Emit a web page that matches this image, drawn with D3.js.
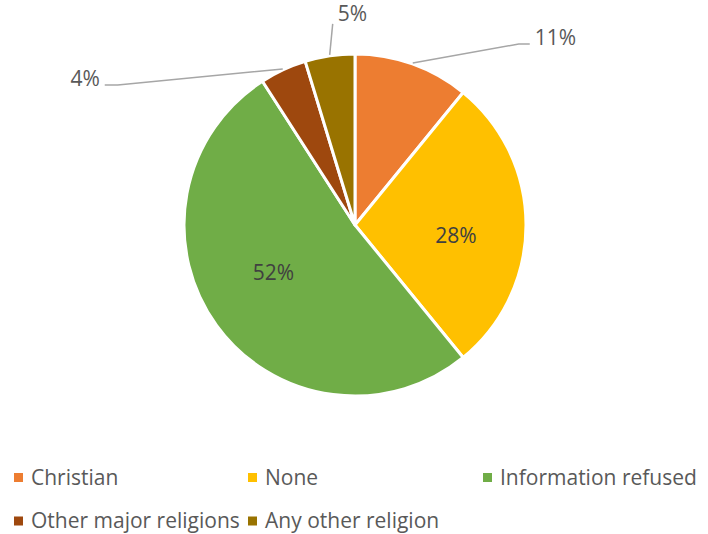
<!DOCTYPE html>
<html>
<head>
<meta charset="utf-8">
<script src="https://cdn.jsdelivr.net/npm/d3@7"></script>
<style>
  body { margin: 0; background: #fff; }
  svg { display: block; font-family: "Open Sans", "Noto Sans", sans-serif; }
</style>
</head>
<body>
<svg id="chart" width="708" height="534"></svg>
<script>
// Data
const categories = ["Christian", "None", "Information refused", "Other major religions", "Any other religion"];
const shares = [10.9, 28.2, 51.8, 4.4, 4.7];
const labelText = ["11%", "28%", "52%", "4%", "5%"];
const colors = ["#ED7D31", "#FFC000", "#70AD47", "#9E480E", "#997300"];

// Layout
const cx = 355, cy = 225, radius = 171;
const textColor = "#595959";
const fontSize = 21;

const svg = d3.select("#chart");
const g = svg.append("g").attr("transform", `translate(${cx},${cy})`);

const rows = categories.map((c, i) => ({ name: c, value: shares[i], label: labelText[i], color: colors[i] }));

const pie = d3.pie().sort(null).value(d => d.value);
const arc = d3.arc().innerRadius(0).outerRadius(radius);
const arcs = pie(rows);

// Slices
g.selectAll("path.slice")
    .data(arcs)
    .join("path")
    .attr("class", "slice")
    .attr("d", arc)
    .attr("fill", d => d.data.color)
    .attr("stroke", "#fff")
    .attr("stroke-width", 3)
    .attr("stroke-linejoin", "round");

// Inside labels (big slices), nudged like Excel's best-fit placement
const innerArc = d3.arc().innerRadius(radius * 0.59).outerRadius(radius * 0.59);
const insideNudge = { 1: 11, 2: -12 };
g.selectAll("text.inner")
    .data(arcs.filter(d => d.data.value > 20))
    .join("text")
    .attr("class", "inner")
    .attr("transform", d => {
        const [x, y] = innerArc.centroid(d);
        return `translate(${x},${y + insideNudge[d.index]})`;
    })
    .attr("dy", "0.35em")
    .attr("text-anchor", "middle")
    .attr("font-size", fontSize)
    .attr("fill", "#404040")
    .text(d => d.data.label);

// Outside labels with leader lines; elbow offsets relative to the arc point
const outside = {
    0: { elbow: [106, -19], tail: 11, anchor: "start" },
    3: { elbow: [-165, 16], tail: -13, anchor: "end" },
    4: { elbow: [3, -31], tail: 0, anchor: "start" }
};
const edgeArc = d3.arc().innerRadius(radius + 1).outerRadius(radius + 1);

arcs.forEach((d, i) => {
    const o = outside[i];
    if (!o) return;
    const [x0, y0] = edgeArc.centroid(d);
    const x1 = x0 + o.elbow[0], y1 = y0 + o.elbow[1];
    const x2 = x1 + o.tail;
    g.append("polyline")
        .attr("points", [[x0, y0], [x1, y1], [x2, y1]].map(p => p.join(",")).join(" "))
        .attr("fill", "none")
        .attr("stroke", "#a6a6a6")
        .attr("stroke-width", 1.5);
    let tx = x2 + (o.anchor === "start" ? 5 : -5);
    let ty = y1 - 6;
    if (o.tail === 0) { tx = x1 + 5; ty = y1 - 10; }
    g.append("text")
        .attr("x", tx)
        .attr("y", ty)
        .attr("dy", "0.35em")
        .attr("text-anchor", o.anchor)
        .attr("font-size", fontSize)
        .attr("fill", textColor)
        .text(d.data.label);
});

// Legend
const legendCols = [14, 248, 483];
const legendRows = [477.5, 521];
const legend = svg.append("g").attr("class", "legend");
rows.forEach((d, i) => {
    const col = i < 3 ? i : i - 3;
    const row = i < 3 ? 0 : 1;
    const item = legend.append("g")
        .attr("transform", `translate(${legendCols[col]},${legendRows[row]})`);
    item.append("rect")
        .attr("x", 0).attr("y", -4.5)
        .attr("width", 9).attr("height", 9)
        .attr("fill", d.color);
    item.append("text")
        .attr("x", 17)
        .attr("y", 0)
        .attr("dy", "0.35em")
        .attr("font-size", fontSize)
        .attr("fill", textColor)
        .text(d.name);
});
</script>
</body>
</html>
